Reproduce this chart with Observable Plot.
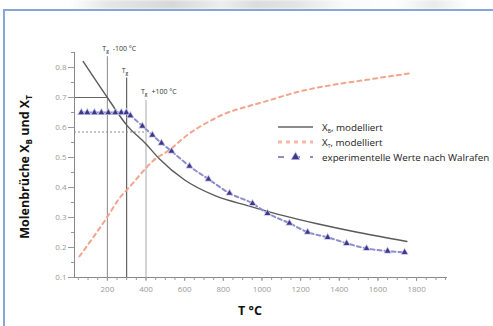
<!DOCTYPE html>
<html><head><meta charset="utf-8">
<script src="https://cdn.jsdelivr.net/npm/d3@7"></script>
<script src="https://cdn.jsdelivr.net/npm/@observablehq/plot@0.6"></script>
<style>
body{margin:0;background:#fff;width:493px;height:326px;overflow:hidden;position:relative;font-family:"Open Sans",sans-serif}
#band{position:absolute;left:0;top:0;width:493px;height:9px;background:linear-gradient(90deg,#fff 0%,#fff 14%,#e6e6e6 22%,#d8d8d8 35%,#eee 45%,#dcdcdc 52%,#e4e4e4 60%,#fafafa 70%,#fff 80%,#eaeaea 88%,#fff 95%);filter:blur(1px)}
#frame{position:absolute;left:3px;top:9px;width:500px;height:330px;border-top:2px solid #86a7d6;border-left:2px solid #86a7d6}
#chart{position:absolute;left:0;top:0}
#legend{position:absolute;left:0;top:0}
</style></head>
<body>
<div id="band"></div>
<div id="frame"></div>
<div id="chart"></div>
<svg id="legend" width="493" height="326"></svg>
<script>
// X_B, modelliert
const bT = [75, 200, 300, 400, 470, 600, 760, 935, 1100, 1280, 1500, 1750];
const bX = [0.82, 0.70, 0.608, 0.545, 0.495, 0.425, 0.372, 0.338, 0.308, 0.28, 0.25, 0.22];
// X_T, modelliert
const tT = [55, 195, 267, 314, 381, 433, 521, 614, 712, 816, 919, 1023, 1194, 1366, 1541, 1780];
const tX = [0.17, 0.297, 0.368, 0.401, 0.451, 0.487, 0.525, 0.575, 0.615, 0.648, 0.669, 0.688, 0.72, 0.742, 0.759, 0.782];
// experimentelle Werte nach Walrafen
const eT = [65, 96, 133, 169, 205, 241, 272, 298, 319, 381, 433, 480, 532, 625, 723, 832, 951, 1029, 1142, 1236, 1340, 1438, 1541, 1650, 1738];
const eX = [0.65, 0.65, 0.65, 0.65, 0.65, 0.65, 0.65, 0.65, 0.64, 0.605, 0.575, 0.548, 0.521, 0.471, 0.428, 0.381, 0.347, 0.314, 0.281, 0.251, 0.234, 0.214, 0.197, 0.188, 0.184];
// reference markers
const tgT = [200, 300, 400];
const tgTop = [0.836, 0.765, 0.69];
const tgLabels = ["Tg -100 °C", "Tg", "Tg +100 °C"];
const tgLabelY = [0.862, 0.79, 0.718];
const hY = [0.7, 0.585];
const hEnd = [200, 400];
// axis ticks
const xTicks = [200, 400, 600, 800, 1000, 1200, 1400, 1600, 1800];
const xMinor = d3.range(50, 1951, 50);
const yTicks = [0.1, 0.2, 0.3, 0.4, 0.5, 0.6, 0.7, 0.8];
const yMinor = [0.15, 0.25, 0.35, 0.45, 0.55, 0.65, 0.75, 0.85];

const B = bT.map((t, i) => ({t, v: bX[i]}));
const T = tT.map((t, i) => ({t, v: tX[i]}));
const E = eT.map((t, i) => ({t, v: eX[i]}));
const TG = tgT.map((t, i) => ({t, top: tgTop[i], label: tgLabels[i], ly: tgLabelY[i]}));
const H = hY.map((v, i) => ({v, end: hEnd[i]}));
const vColors = ["#8a8a8a", "#444", "#a8a8a8"];

const chart = Plot.plot({
  width: 493, height: 326,
  marginLeft: 74, marginTop: 52, marginBottom: 49, marginRight: 46,
  x: {domain: [30, 1960]},
  y: {domain: [0.1, 0.85]},
  style: {background: "transparent", fontFamily: "Open Sans"},
  marks: [
    Plot.ruleX(TG, {x: "t", y1: 0.1, y2: "top", stroke: (d, i) => vColors[i], strokeWidth: 1}),
    Plot.ruleY(H.slice(0, 1), {y: "v", x1: 30, x2: "end", stroke: "#666", strokeWidth: 1}),
    Plot.ruleY(H.slice(1), {y: "v", x1: 30, x2: "end", stroke: "#888", strokeWidth: 1, strokeDasharray: "2,2"}),
    Plot.line(T, {x: "t", y: "v", curve: "monotone-x", stroke: "#f3a48c", strokeWidth: 2, strokeDasharray: "4,4"}),
    Plot.line(B, {x: "t", y: "v", curve: "monotone-x", stroke: "#5a5a5a", strokeWidth: 1.4}),
    Plot.line(E, {x: "t", y: "v", curve: "monotone-x", stroke: "#8d8dcc", strokeWidth: 2, strokeDasharray: "4,3"}),
    Plot.dot(E, {x: "t", y: "v", symbol: "triangle", r: 2.1, fill: "#3f3888", stroke: "#c4c4ea", strokeWidth: 1.5, paintOrder: "stroke"}),
    Plot.ruleX([30], {y1: 0.1, y2: 0.85, stroke: "#888"}),
    Plot.ruleY([0.1], {x1: 30, x2: 1960, stroke: "#888"}),
    Plot.axisX({ticks: xMinor, tickSize: 3, tickFormat: () => "", color: "#999", label: null}),
    Plot.axisX({ticks: xTicks, tickSize: 4, tickPadding: 5, fontSize: 8, color: "#9a9a9a", tickFormat: d3.format("d"), label: null}),
    Plot.axisY({ticks: yMinor, tickSize: 3, tickFormat: () => "", color: "#999", label: null}),
    Plot.axisY({ticks: yTicks, tickSize: 6, tickPadding: 2, fontSize: 8, color: "#9a9a9a", tickFormat: d3.format(".1f"), label: null}),
    Plot.text(TG, {x: "t", y: "ly", text: "label", textAnchor: "start", dx: -5, fontSize: 7, fill: "#333", className: "tglab"})
  ]
});
document.getElementById("chart").appendChild(chart);

// subscripts in Tg labels
d3.select(chart).selectAll(".tglab text").each(function () {
  const s = this.textContent;
  const rest = s.slice(2);
  const el = d3.select(this);
  el.text(null);
  el.append("tspan").text("T");
  el.append("tspan").attr("dy", 2).attr("font-size", 5).text("g");
  el.append("tspan").attr("dy", -2).attr("dx", 2).text(rest);
});

const svg = d3.select(chart);
// y title
const yt = svg.append("text").attr("transform", "translate(29,167) rotate(-90)")
  .attr("text-anchor", "middle").attr("font-family", "Open Sans").attr("font-weight", "bold")
  .attr("font-size", 12.5).attr("fill", "#111");
yt.append("tspan").text("Molenbrüche X");
yt.append("tspan").attr("dy", 3).attr("font-size", 8).text("B");
yt.append("tspan").attr("dy", -3).text(" und X");
yt.append("tspan").attr("dy", 3).attr("font-size", 8).text("T");
// x title
svg.append("text").attr("x", 250).attr("y", 315).attr("text-anchor", "middle")
  .attr("font-family", "Open Sans").attr("font-weight", "bold").attr("font-size", 12.5).attr("fill", "#111").text("T °C");

// legend
const lg = d3.select("#legend");
const rows = [127, 142, 157];
lg.append("line").attr("x1", 278).attr("x2", 313).attr("y1", rows[0]).attr("y2", rows[0]).attr("stroke", "#666").attr("stroke-width", 1.4);
lg.append("line").attr("x1", 278).attr("x2", 313).attr("y1", rows[1]).attr("y2", rows[1]).attr("stroke", "#f3b9a4").attr("stroke-width", 3).attr("stroke-dasharray", "4,4");
lg.append("line").attr("x1", 278).attr("x2", 313).attr("y1", rows[2]).attr("y2", rows[2]).attr("stroke", "#8d8dcc").attr("stroke-width", 2).attr("stroke-dasharray", "6,10");
lg.append("path").attr("d", d3.symbol(d3.symbolTriangle, 24)()).attr("transform", `translate(295.5,${rows[2]})`).attr("fill", "#3f3888").attr("stroke", "#c4c4ea").attr("stroke-width", 1.5).attr("paint-order", "stroke");
const labels = [["X", "B", ", modelliert"], ["X", "T", ", modelliert"], ["experimentelle Werte nach Walrafen", "", ""]];
labels.forEach((l, i) => {
  const t = lg.append("text").attr("x", 322).attr("y", rows[i] + 3.5).attr("font-family", "Open Sans").attr("font-size", 9.8).attr("fill", "#222");
  t.append("tspan").text(l[0]);
  if (l[1]) {
    t.append("tspan").attr("dy", 2).attr("font-size", 5).text(l[1]);
    t.append("tspan").attr("dy", -2).text(l[2]);
  }
});
</script>
</body></html>
